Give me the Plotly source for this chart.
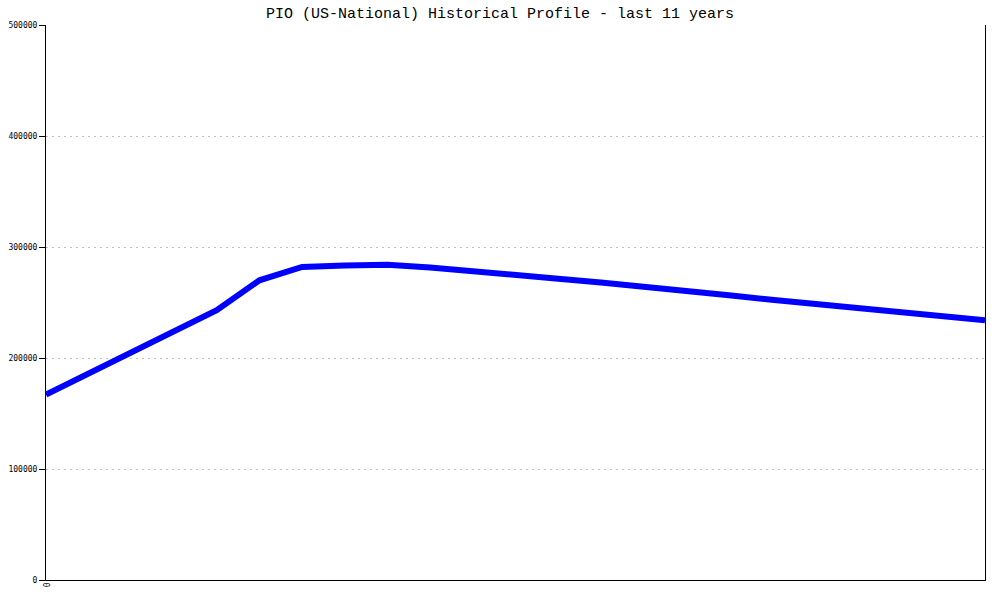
import plotly.graph_objects as go

periods = list(range(23))
values = [167000, 186000, 205000, 224000, 243000, 270000, 282000, 283300, 284000,
          281500, 278500, 275000, 271500, 268000, 264500, 260500, 256500, 252500,
          248800, 245000, 241300, 237700, 234000]
y_ticks = [0, 100000, 200000, 300000, 400000, 500000]
x_tick_vals = [0]
x_tick_text = ["0"]

fig = go.Figure()
fig.add_trace(go.Scatter(x=periods, y=values, mode="lines",
                         line=dict(color="#0000ff", width=6), hoverinfo="skip"))

fig.update_layout(
    width=1000, height=600,
    margin=dict(l=46, r=15, t=25, b=20, autoexpand=False),
    paper_bgcolor="white", plot_bgcolor="white",
    showlegend=False,
    title=dict(text="PIO (US-National) Historical Profile - last 11 years",
               x=0.5, xanchor="center", y=0.978, yanchor="middle",
               font=dict(family="Liberation Mono, DejaVu Sans Mono, monospace",
                         size=15, color="black")),
    xaxis=dict(range=[0, 22], showgrid=False, zeroline=False, automargin=False,
               showline=True, linecolor="black", linewidth=1,
               tickmode="array", tickvals=x_tick_vals, ticktext=x_tick_text,
               tickangle=90, ticks="outside", ticklen=0,
               tickfont=dict(family="DejaVu Sans Mono, monospace", size=8, color="black")),
    yaxis=dict(range=[0, 500000], showgrid=True, gridcolor="#c0c0c0",
               griddash="2px,4px", gridwidth=1, zeroline=False, automargin=False,
               showline=True, linecolor="black", linewidth=1, mirror=True,
               tickmode="array", tickvals=y_ticks,
               ticktext=[str(v) for v in y_ticks],
               ticks="outside", ticklen=6, tickcolor="black",
               tickfont=dict(family="DejaVu Sans Mono, monospace", size=8, color="black")),
)

fig.write_html("out.html", config={"displayModeBar": False},
               post_script="document.body.style.margin='0';document.body.style.overflow='hidden';")
